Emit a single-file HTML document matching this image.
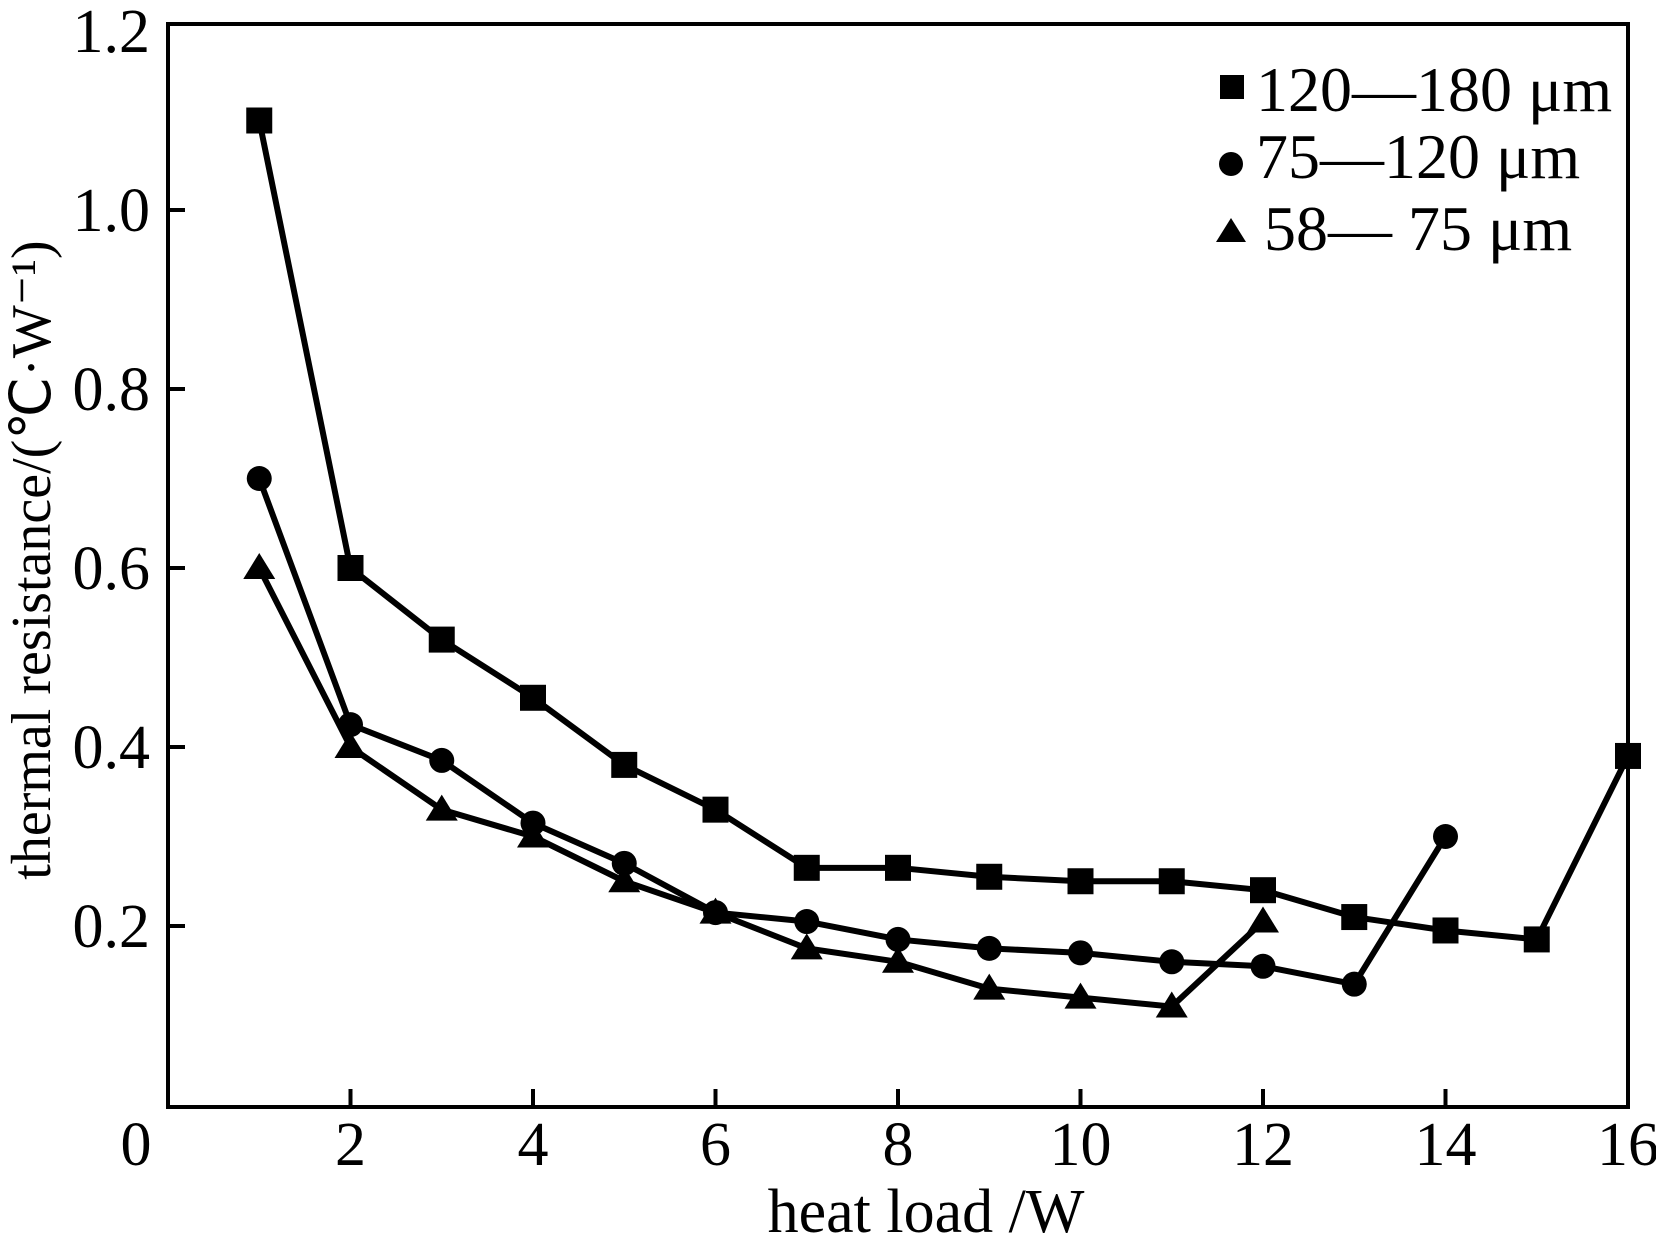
<!DOCTYPE html>
<html><head><meta charset="utf-8"><style>
html,body{margin:0;padding:0;background:#fff}
svg{display:block}
text{font-family:"Liberation Serif","Times New Roman",serif;fill:#000}
</style></head><body>
<svg id="chart" width="1656" height="1236" viewBox="0 0 1656 1236" xmlns="http://www.w3.org/2000/svg">
<rect x="168" y="24" width="1460" height="1083" fill="none" stroke="#000" stroke-width="4"/>
<g id="ticks"></g>
<g id="series"></g>
<text x="926" y="1232" font-size="62" text-anchor="middle">heat load /W</text>
<text transform="translate(50,560) rotate(-90)" font-size="56" text-anchor="middle">thermal resistance/(℃·W⁻¹)</text>
<g>
<rect x="1220" y="75" width="24" height="24"/>
<text x="1256" y="111" font-size="64">120—180 μm</text>
<circle cx="1231" cy="164" r="12"/>
<text x="1256" y="178" font-size="64">75—120 μm</text>
<path d="M1231,218 L1246,242 L1216,242 Z"/>
<text x="1264" y="250" font-size="64">58— 75 μm</text>
</g>
</svg>
<script>
const xTicks=[2,4,6,8,10,12,14,16];
const yTicks=[0.2,0.4,0.6,0.8,1.0,1.2];
const yTickLabels=["0.2","0.4","0.6","0.8","1.0","1.2"];
const sqX=[1,2,3,4,5,6,7,8,9,10,11,12,13,14,15,16];
const sqY=[1.10,0.60,0.52,0.455,0.38,0.33,0.265,0.265,0.255,0.25,0.25,0.24,0.21,0.195,0.185,0.39];
const ciX=[1,2,3,4,5,6,7,8,9,10,11,12,13,14];
const ciY=[0.70,0.425,0.385,0.315,0.27,0.215,0.205,0.185,0.175,0.17,0.16,0.155,0.135,0.30];
const trX=[1,2,3,4,5,6,7,8,9,10,11,12];
const trY=[0.60,0.40,0.33,0.30,0.25,0.215,0.175,0.16,0.13,0.12,0.11,0.205];
const NS="http://www.w3.org/2000/svg";
function sx(v){return 168+v*91.25;}
function sy(v){return 1105-v*895;}
function mk(tag,attrs,parent){const e=document.createElementNS(NS,tag);for(const k in attrs)e.setAttribute(k,attrs[k]);parent.appendChild(e);return e;}
const tg=document.getElementById('ticks');
let z=mk('text',{x:136,y:1165,'font-size':62,'text-anchor':'middle'},tg);z.textContent="0";


xTicks.forEach(v=>{
 const l=mk('line',{x1:sx(v),x2:sx(v),y1:1107,y2:1089,stroke:'#000','stroke-width':4},tg);
 
 
 const t=mk('text',{x:sx(v),y:1165,'font-size':62,'text-anchor':'middle'},tg);
 t.textContent=String(v);
 
 
});
yTicks.forEach((v,i)=>{
 if(v<1.15){const l=mk('line',{x1:168,x2:185,y1:sy(v),y2:sy(v),stroke:'#000','stroke-width':4},tg);
 
 }
 const t=mk('text',{x:150,y:sy(v)+21,'font-size':62,'text-anchor':'end'},tg);
 t.textContent=yTickLabels[i];
 
 
});
const sg=document.getElementById('series');
function series(xs,ys,name,shape){
 const g=mk('g',{},sg);
 
 
 const p=mk('polyline',{points:xs.map((x,i)=>sx(x)+','+sy(ys[i])).join(' '),fill:'none',stroke:'#000','stroke-width':6,'stroke-linejoin':'round'},g);
 
 
 xs.forEach((x,i)=>{
  const cx=sx(x),cy=sy(ys[i]);let m;
  if(shape==='sq')m=mk('rect',{x:cx-13,y:cy-13,width:26,height:26},g);
  else if(shape==='ci')m=mk('circle',{cx:cx,cy:cy,r:12.5},g);
  else m=mk('path',{d:`M${cx},${cy-15} L${cx+16},${cy+11} L${cx-16},${cy+11} Z`},g);
  
  
 });
}
series(sqX,sqY,'120-180','sq');
series(ciX,ciY,'75-120','ci');
series(trX,trY,'58-75','tr');
</script>
</body></html>
